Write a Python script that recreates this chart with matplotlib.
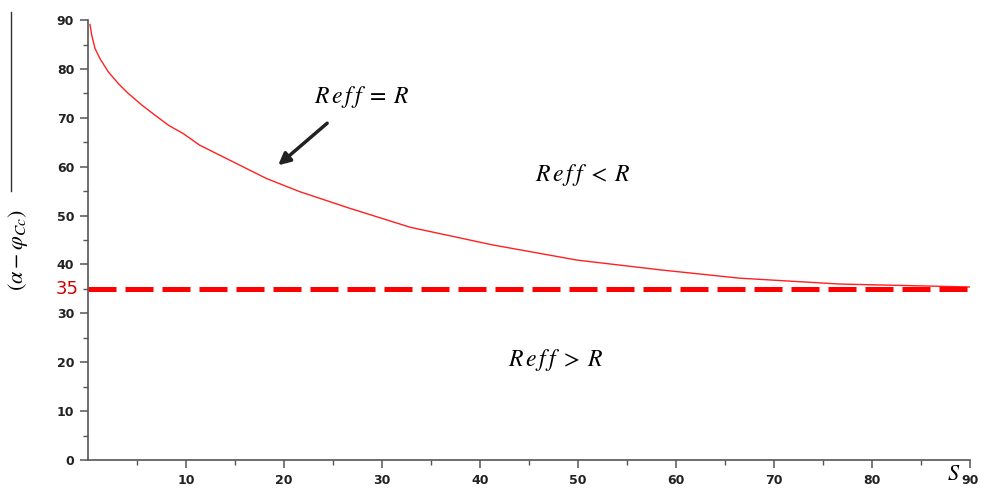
import matplotlib.pyplot as plt
from matplotlib.lines import Line2D

# Curve Reff = R
s_vals = [0.2, 0.38, 0.71, 1.22, 2.07, 3.1, 4.1, 5.5, 6.8, 8.2, 9.7, 11.4, 14.8,
          18.2, 21.6, 26.7, 32.9, 41.3, 49.9, 58.4, 66.5, 76.7, 90.0]
angle_vals = [89.1, 86.9, 84.2, 82.1, 79.4, 77.0, 75.0, 72.6, 70.6, 68.5, 66.8, 64.4, 61.0,
              57.6, 54.9, 51.5, 47.6, 44.0, 40.9, 38.9, 37.2, 36.0, 35.4]
limit_val = 35
x_ticks = [10, 20, 30, 40, 50, 60, 70, 80, 90]
y_ticks = [0, 10, 20, 30, 40, 50, 60, 70, 80, 90]

plt.rcParams['mathtext.fontset'] = 'stix'

fig = plt.figure(figsize=(9.87, 4.90), dpi=100)
ax = fig.add_axes([0.0892, 0.0612, 0.8936, 0.8978])

ax.plot(s_vals, angle_vals, color='#ff2020', lw=1.0)
ax.plot([0, 90.5], [limit_val, limit_val], color='#ff0000', lw=3.6,
        dashes=(5.6, 1.8), clip_on=False)

ax.set_xlim(0, 90)
ax.set_ylim(0, 90)
ax.set_xticks(x_ticks)
ax.set_yticks(y_ticks)
ax.set_xticks([5 + 10 * i for i in range(9)], minor=True)
ax.set_yticks([5 + 10 * i for i in range(9)], minor=True)
for sp in ['top', 'right']:
    ax.spines[sp].set_visible(False)
for sp in ['left', 'bottom']:
    ax.spines[sp].set_color('#555555')
    ax.spines[sp].set_linewidth(1.2)
ax.tick_params(which='major', length=6, width=1.1, color='#555555',
               labelsize=9, labelcolor='#222222', pad=4)
ax.tick_params(which='minor', length=3.5, width=1.0, color='#555555')
for lab in ax.get_xticklabels() + ax.get_yticklabels():
    lab.set_fontweight('bold')

# red 35 label
ax.text(-1.0, limit_val, '35', color='#cc0000', fontsize=13,
        ha='right', va='center')

# region labels
lab_eq = r'$R\,e\,f\,f\;=\;R$'
lab_lt = r'$R\,e\,f\,f\;<\;R$'
lab_gt = r'$R\,e\,f\,f\;>\;R$'
ax.text(27.9, 74.3, lab_eq, fontsize=17, ha='center', va='center')
ax.text(50.5, 58.3, lab_lt, fontsize=17, ha='center', va='center')
ax.text(47.7, 20.5, lab_gt, fontsize=17, ha='center', va='center')
ax.annotate('', xy=(19.4, 60.3), xytext=(24.4, 68.9),
            arrowprops=dict(arrowstyle='-|>,head_width=0.35,head_length=0.7',
                            color='#222222', lw=2.5, shrinkA=0, shrinkB=0))

# axis names
ax.text(88.3, -0.8, r'$S$', fontsize=16, ha='center', va='top', clip_on=False)
fig.text(0.018, 0.49, r'$(\alpha-\varphi_{Cc})$', rotation=90, fontsize=16,
         ha='center', va='center')
fig.add_artist(Line2D([0.011, 0.011], [0.61, 0.975], color='#333333', lw=1.0))

fig.savefig('out.png', dpi=100)
